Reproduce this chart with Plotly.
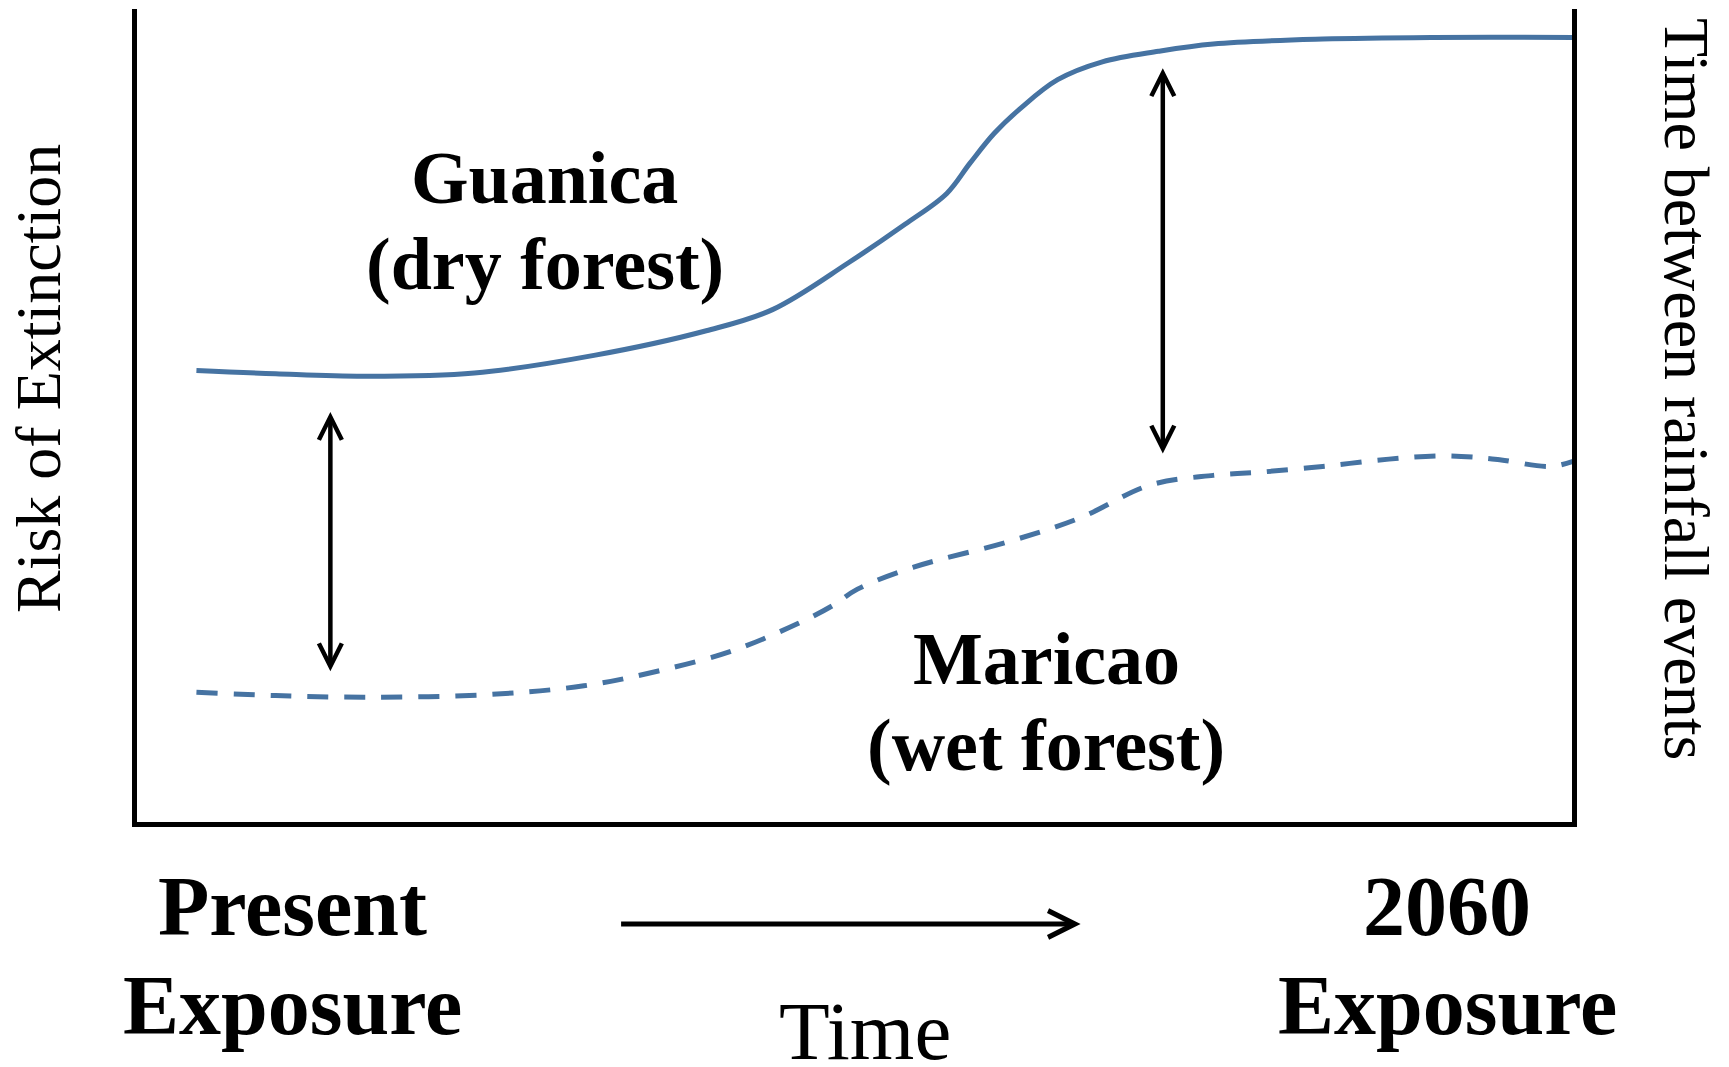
import plotly.graph_objects as go

# ---------------- data ----------------
# time: % of the span from "Present" (left axis) to "2060" (right axis)
# risk: % of the axis height (conceptual, unitless)
guanica_time = [4.3, 9.8, 15.9, 23.6, 32.0, 39.7, 44.3, 49.6, 53.5, 56.4, 58.0, 59.7,
                61.6, 64.1, 67.2, 71.1, 74.9, 82.5, 90.2, 100.0]
guanica_risk = [55.5, 55.1, 54.8, 55.2, 57.4, 60.4, 63.0, 68.8, 73.5, 77.3, 81.0, 84.7,
                87.9, 91.3, 93.5, 94.8, 95.7, 96.3, 96.5, 96.5]

maricao_time = [4.3, 9.8, 15.9, 24.3, 31.2, 36.3, 41.5, 46.1, 48.5, 50.2, 54.1, 60.8,
                65.7, 70.5, 74.9, 78.2, 82.5, 87.1, 90.7, 93.3, 94.9, 98.3, 100.0]
maricao_risk = [15.9, 15.5, 15.3, 15.6, 16.7, 18.5, 21.0, 24.4, 26.6, 28.6, 31.3, 34.5,
                37.4, 41.4, 42.6, 43.0, 43.7, 44.6, 45.0, 44.8, 44.5, 43.7, 44.4]

# double arrows showing the gap between sites: [time, low risk, high risk]
gap_present = [13.6, 18.5, 50.6]
gap_2060 = [71.4, 45.3, 92.9]

site_labels = [("Guanica", "(dry forest)"), ("Maricao", "(wet forest)")]
period_labels = [("Present", "Exposure"), ("2060", "Exposure")]
x_title = "Time"
y_title = "Risk of Extinction"
y2_title = "Time between rainfall events"

# ---------------- styling ----------------
W, H = 1729, 1067
BLUE = "#4673A2"
SERIF = "Liberation Serif, Times New Roman, serif"
AXW = 5


def px(x, y):
    """pixel position on the page -> paper coordinates"""
    return x / W, 1 - y / H


fig = go.Figure()
fig.add_trace(go.Scatter(x=guanica_time, y=guanica_risk, mode="lines",
                         line=dict(color=BLUE, width=5, shape="spline", smoothing=1),
                         hoverinfo="skip", showlegend=False))
fig.add_trace(go.Scatter(x=maricao_time, y=maricao_risk, mode="lines",
                         line=dict(color=BLUE, width=5, shape="spline", smoothing=1,
                                   dash="21px,16px"),
                         hoverinfo="skip", showlegend=False))

annotations = []
# double-headed arrows (data coordinates)
for t, lo, hi in (gap_present, gap_2060):
    annotations.append(dict(x=t, y=lo, ax=t, ay=hi, xref="x", yref="y",
                            axref="x", ayref="y", text="", showarrow=True,
                            arrowhead=5, startarrowhead=5, arrowside="end+start",
                            arrowsize=1.0, startarrowsize=1.0, arrowwidth=4.5,
                            arrowcolor="black", standoff=0, startstandoff=0))


def label(text, x, y, size, bold=True, angle=0):
    ax_, ay_ = px(x, y)
    t = f"<b>{text}</b>" if bold else text
    return dict(x=ax_, y=ay_, xref="paper", yref="paper", text=t, showarrow=False,
                xanchor="center", yanchor="middle", textangle=angle,
                font=dict(family=SERIF, size=size, color="black"))


annotations += [
    label(site_labels[0][0], 544.7, 178, 74),
    label(site_labels[0][1], 544.7, 264, 74),
    label(site_labels[1][0], 1046, 659, 74),
    label(site_labels[1][1], 1046, 745, 74),
    label(period_labels[0][0], 292, 906.6, 84),
    label(period_labels[0][1], 292, 1005.8, 84),
    label(period_labels[1][0], 1447, 906.6, 84),
    label(period_labels[1][1], 1447.5, 1005.8, 84),
    label(x_title, 864.5, 1031, 83, bold=False),
    label(y_title, 38, 379, 64, bold=False, angle=-90),
    label(y2_title, 1687, 389, 64, bold=False, angle=90),
]

# time arrow under the axis
hx, hy = px(1080.6, 924)
annotations.append(dict(x=hx, y=hy, xref="paper", yref="paper", ax=-461, ay=0,
                        axref="pixel", ayref="pixel", text="", showarrow=True,
                        arrowhead=5, arrowsize=1.05, arrowwidth=5,
                        arrowcolor="black", standoff=0))

# plot area: axis-line centres at x=134.5/1574.7 px, y=821.5/9 px
x0px, x100px = 134.5, 1574.7
scale = (x100px - x0px) / 100
dom_l, dom_r = x0px + AXW / 2, x100px - AXW / 2
x_range = [(dom_l - x0px) / scale, 100 - (x100px - dom_r) / scale]

fig.update_layout(
    width=W, height=H,
    margin=dict(l=0, r=0, t=0, b=0),
    paper_bgcolor="white", plot_bgcolor="white",
    annotations=annotations,
    showlegend=False,
    xaxis=dict(domain=[dom_l / W, dom_r / W], range=x_range, showgrid=False,
               zeroline=False, showticklabels=False, ticks="", showline=True,
               linecolor="black", linewidth=AXW, mirror=False, fixedrange=True),
    yaxis=dict(domain=[1 - 821.5 / H, 1 - 9 / H], range=[0, 100], showgrid=False,
               zeroline=False, showticklabels=False, ticks="", showline=True,
               linecolor="black", linewidth=AXW, mirror=True, fixedrange=True),
)

fig.write_html("out.html", config={"displayModeBar": False, "staticPlot": True},
               post_script="document.body.style.margin='0';document.body.style.overflow='hidden';")
